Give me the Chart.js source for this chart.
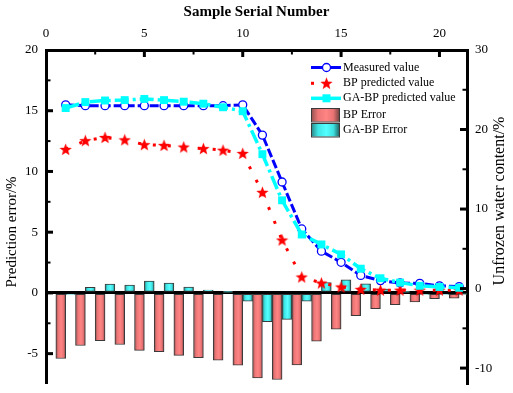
<!DOCTYPE html>
<html>
<head>
<meta charset="utf-8">
<script src="https://cdn.jsdelivr.net/npm/chart.js@4.4.1/dist/chart.umd.min.js"></script>
<style>
  html, body { margin: 0; padding: 0; background: #fff; }
  #wrap { width: 513px; height: 393px; }
</style>
</head>
<body>
<div id="wrap"><canvas id="chart" width="513" height="393"></canvas></div>
<script>
// sample serial numbers
const samples = [1, 2, 3, 4, 5, 6, 7, 8, 9, 10, 11, 12, 13, 14, 15, 16, 17, 18, 19, 20, 21];

// unfrozen water content (%), right axis
const measured = [23.1, 23.0, 23.0, 23.0, 23.0, 23.0, 23.0, 23.0, 23.0, 23.1, 19.3, 13.4, 7.5, 4.7, 3.3, 1.65, 1.0, 0.7, 0.65, 0.35, 0.25];
const bpPredicted = [17.5, 18.6, 19.0, 18.7, 18.1, 18.0, 17.8, 17.6, 17.4, 17.0, 12.1, 6.1, 1.45, 0.7, 0.2, -0.1, -0.2, -0.2, -0.2, -0.2, -0.2];
const gaPredicted = [22.7, 23.45, 23.65, 23.7, 23.85, 23.7, 23.5, 23.25, 22.8, 22.3, 16.9, 11.1, 6.8, 5.55, 4.3, 2.5, 1.3, 0.75, 0.35, 0.2, 0.1];

// prediction error (%), left axis
const bpError = [-5.4, -4.33, -3.93, -4.25, -4.73, -4.84, -5.14, -5.33, -5.54, -5.94, -7.0, -7.13, -5.92, -3.98, -2.98, -1.88, -1.29, -0.97, -0.75, -0.48, -0.43];
const gaError = [-0.1, 0.45, 0.72, 0.64, 0.97, 0.8, 0.48, 0.24, 0.05, -0.68, -2.37, -2.18, -0.68, 0.86, 1.07, 0.75, 0.32, 0.05, -0.1, -0.1, -0.05];

// axis ticks
const xMajorTicks = [0, 5, 10, 15, 20];
const xMinorTicks = [2.5, 7.5, 12.5, 17.5];
const leftMajorTicks = [-5, 0, 5, 10, 15, 20];
const leftMinorTicks = [-2.5, 2.5, 7.5, 12.5, 17.5];
const rightMajorTicks = [-10, 0, 10, 20, 30];
const rightMinorTicks = [-5, 5, 15, 25];

const serif = "'Liberation Serif', 'Times New Roman', serif";

const redStops = [[0, '#8c5050'], [0.25, '#ee7676'], [0.55, '#ff8484'], [0.8, '#e87272'], [1, '#7a4646']];
const cyanStops = [[0, '#2a7f7f'], [0.25, '#3fe6e6'], [0.55, '#55ffff'], [0.8, '#3ee0e0'], [1, '#226c6c']];

function toPoints(values) {
    return samples.map((s, i) => ({ x: s, y: values[i] }));
}

// filled red five point star used as point marker
function makeStar(size, color) {
    const c = document.createElement('canvas');
    c.width = size; c.height = size;
    const g = c.getContext('2d');
    const cx = size / 2, cy = size / 2 + 0.5, ro = size / 2, ri = ro * 0.42;
    g.beginPath();
    for (let i = 0; i < 10; i++) {
        const r = i % 2 === 0 ? ro : ri;
        const a = -Math.PI / 2 + i * Math.PI / 5;
        g.lineTo(cx + r * Math.cos(a), cy + r * Math.sin(a));
    }
    g.closePath();
    g.fillStyle = color;
    g.fill();
    return c;
}
const starImg = makeStar(13, '#ff0000');

function gradient(ctx, x0, x1, stops) {
    const g = ctx.createLinearGradient(x0, 0, x1, 0);
    stops.forEach(s => g.addColorStop(s[0], s[1]));
    return g;
}

function barFill(stops, side) {
    return function (c) {
        if (c.type !== 'data' || !c.raw) return stops[2][1];
        const xs = c.chart.scales.x;
        if (!xs) return stops[2][1];
        const px = xs.getPixelForValue(c.raw.x);
        const half = (xs.getPixelForValue(1) - xs.getPixelForValue(0)) / 2;
        if (!isFinite(px) || !isFinite(half) || half <= 0) return stops[2][1];
        const x0 = side < 0 ? px - half : px;
        return gradient(c.chart.ctx, x0, x0 + half, stops);
    };
}

function fixBox(size, key) {
    return function (s) {
        s[key] = size;
        s.paddingLeft = 0; s.paddingRight = 0; s.paddingTop = 0; s.paddingBottom = 0;
    };
}

const tickFont = { family: serif, size: 13 };

// inward tick marks, axis titles and the legend
const decor = {
    id: 'decor',
    afterDatasetsDraw(chart) {
        const { ctx, chartArea: a, scales } = chart;
        ctx.save();
        ctx.strokeStyle = '#000';
        ctx.lineCap = 'butt';
        ctx.setLineDash([]);

        function tick(scale, v, len, w) {
            ctx.lineWidth = w;
            ctx.beginPath();
            const p = scale.getPixelForValue(v);
            if (scale.id === 'x') {
                ctx.moveTo(p, a.top); ctx.lineTo(p, a.top + len);
            } else if (scale.id === 'y') {
                ctx.moveTo(a.left, p); ctx.lineTo(a.left + len, p);
            } else {
                ctx.moveTo(a.right, p); ctx.lineTo(a.right - len, p);
            }
            ctx.stroke();
        }
        xMajorTicks.filter(v => v > 0).forEach(v => tick(scales.x, v, 7, 3));
        xMinorTicks.forEach(v => tick(scales.x, v, 4.5, 2));
        leftMajorTicks.filter(v => v < 20).forEach(v => tick(scales.y, v, 7, 3));
        leftMinorTicks.forEach(v => tick(scales.y, v, 4.5, 2));
        rightMajorTicks.filter(v => v < 30).forEach(v => tick(scales.y2, v, 7, 3));
        rightMinorTicks.forEach(v => tick(scales.y2, v, 4.5, 2));

        // titles
        ctx.fillStyle = '#000';
        ctx.textAlign = 'center';
        ctx.textBaseline = 'middle';
        ctx.font = 'bold 15px ' + serif;
        ctx.fillText('Sample Serial Number', (a.left + a.right) / 2, 12);

        ctx.font = '15px ' + serif;
        ctx.save();
        ctx.translate(12, 232);
        ctx.rotate(-Math.PI / 2);
        ctx.fillText('Prediction error/%', 0, 0);
        ctx.restore();

        ctx.font = '16px ' + serif;
        ctx.save();
        ctx.translate(500, 201);
        ctx.rotate(-Math.PI / 2);
        ctx.fillText('Unfrozen water content/%', 0, 0);
        ctx.restore();

        // legend
        const lx0 = 311, lx1 = 341, lmid = 326.5, tx = 343;
        ctx.font = '12px ' + serif;
        ctx.textAlign = 'left';

        let y = 67.5;
        ctx.strokeStyle = '#0000ff'; ctx.lineWidth = 3;
        ctx.beginPath(); ctx.moveTo(lx0, y); ctx.lineTo(lx1, y); ctx.stroke();
        ctx.fillStyle = '#fff'; ctx.lineWidth = 1.3;
        ctx.beginPath(); ctx.arc(lmid, y, 4, 0, Math.PI * 2); ctx.fill(); ctx.stroke();
        ctx.fillStyle = '#000'; ctx.fillText('Measured value', tx, y);

        y = 83.3;
        ctx.fillStyle = '#ff0000';
        ctx.fillRect(lx0, y - 1.5, 3, 3);
        ctx.drawImage(starImg, lmid - starImg.width / 2, y - starImg.height / 2);
        ctx.fillStyle = '#000'; ctx.fillText('BP predicted value', tx, y);

        y = 98.3;
        ctx.strokeStyle = '#00ffff'; ctx.lineWidth = 3.5;
        ctx.beginPath(); ctx.moveTo(lx0, y); ctx.lineTo(lx1, y); ctx.stroke();
        ctx.fillStyle = '#00ffff'; ctx.fillRect(lmid - 4, y - 4, 8, 8);
        ctx.fillStyle = '#000'; ctx.fillText('GA-BP predicted value', tx, y);

        ctx.strokeStyle = '#3a3a3a'; ctx.lineWidth = 1;
        ctx.fillStyle = gradient(ctx, 311, 339, redStops);
        ctx.fillRect(311, 108, 28, 13.5); ctx.strokeRect(311.5, 108.5, 28, 13.5);
        ctx.fillStyle = '#000'; ctx.fillText('BP Error', tx, 114.5);

        ctx.fillStyle = gradient(ctx, 311, 339, cyanStops);
        ctx.fillRect(311, 123, 28, 13.5); ctx.strokeRect(311.5, 123.5, 28, 13.5);
        ctx.fillStyle = '#000'; ctx.fillText('GA-BP Error', tx, 130);

        ctx.restore();
    }
};

new Chart(document.getElementById('chart'), {
    type: 'bar',
    data: {
        datasets: [
            {
                type: 'line', label: 'Measured value', data: toPoints(measured),
                xAxisID: 'x', yAxisID: 'y2', order: 3,
                borderColor: '#0000ff', borderWidth: 3, borderDash: [9, 3], tension: 0, fill: false,
                pointStyle: 'circle', pointRadius: 4, pointBorderWidth: 1.3,
                pointBackgroundColor: '#ffffff', pointBorderColor: '#0000ff'
            },
            {
                type: 'line', label: 'BP predicted value', data: toPoints(bpPredicted),
                xAxisID: 'x', yAxisID: 'y2', order: 2,
                borderColor: '#ff0000', borderWidth: 3, borderDash: [3, 12], tension: 0, fill: false,
                pointStyle: starImg, pointRadius: 6
            },
            {
                type: 'line', label: 'GA-BP predicted value', data: toPoints(gaPredicted),
                xAxisID: 'x', yAxisID: 'y2', order: 1,
                borderColor: '#00ffff', borderWidth: 3.5, borderDash: [14, 4, 3, 4], tension: 0, fill: false,
                pointStyle: 'rect', pointRadius: 5.6, pointBorderWidth: 0,
                pointBackgroundColor: '#00ffff', pointBorderColor: '#00ffff'
            },
            {
                type: 'bar', label: 'BP Error', data: toPoints(bpError),
                xAxisID: 'x', yAxisID: 'y', order: 10,
                backgroundColor: barFill(redStops, -1), borderColor: '#3a3a3a', borderWidth: 1,
                borderSkipped: false, categoryPercentage: 1, barPercentage: 1
            },
            {
                type: 'bar', label: 'GA-BP Error', data: toPoints(gaError),
                xAxisID: 'x', yAxisID: 'y', order: 11,
                backgroundColor: barFill(cyanStops, 1), borderColor: '#3a3a3a', borderWidth: 1,
                borderSkipped: false, categoryPercentage: 1, barPercentage: 1
            }
        ]
    },
    options: {
        responsive: false,
        animation: false,
        devicePixelRatio: 1,
        layout: { padding: { top: 0, left: 0, right: 0, bottom: 3 } },
        plugins: { legend: { display: false }, tooltip: { enabled: false } },
        scales: {
            x: {
                type: 'linear', position: 'top', min: 0, max: 21.4, offset: false,
                afterBuildTicks: s => { s.ticks = xMajorTicks.map(v => ({ value: v })); },
                afterFit: fixBox(50, 'height'),
                grid: { drawOnChartArea: false, drawTicks: false, offset: false },
                border: { display: true, color: '#000', width: 3 },
                ticks: { font: tickFont, color: '#000', padding: 9, maxRotation: 0 }
            },
            y: {
                type: 'linear', position: 'left', min: -7.5, max: 20,
                afterBuildTicks: s => { s.ticks = leftMajorTicks.map(v => ({ value: v })); },
                afterFit: fixBox(46, 'width'),
                grid: {
                    drawTicks: false,
                    color: c => (c.tick && c.tick.value === 0 ? '#000' : 'rgba(0,0,0,0)'),
                    lineWidth: c => (c.tick && c.tick.value === 0 ? 3 : 0)
                },
                border: { display: true, color: '#000', width: 3 },
                ticks: { font: tickFont, color: '#000', padding: 8 }
            },
            y2: {
                type: 'linear', position: 'right', min: -12, max: 30,
                afterBuildTicks: s => { s.ticks = rightMajorTicks.map(v => ({ value: v })); },
                afterFit: fixBox(46, 'width'),
                grid: { drawOnChartArea: false, drawTicks: false },
                border: { display: true, color: '#000', width: 3 },
                ticks: { font: tickFont, color: '#000', padding: 8 }
            }
        }
    },
    plugins: [decor]
});
</script>
</body>
</html>
